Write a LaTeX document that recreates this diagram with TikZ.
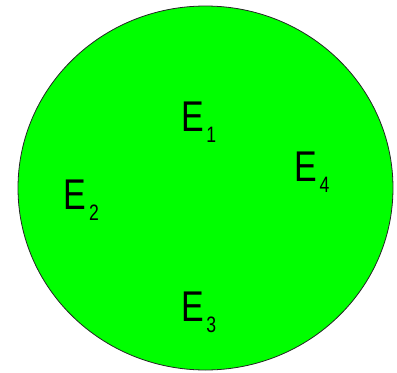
\documentclass[tikz,border=0pt]{standalone}
\usepackage{fontspec}
\setmainfont{Liberation Sans}
\usepackage{graphicx}
\definecolor{brightgreen}{RGB}{0,255,0}
\newcommand{\elab}[1]{\scalebox{0.79}[1]{\fontsize{43bp}{43bp}\selectfont E\kern3bp\raisebox{-11bp}{\fontsize{22.3bp}{22.3bp}\selectfont #1}}}
\begin{document}
\begin{tikzpicture}[x=1bp,y=-1bp,
  lab/.style={inner sep=0pt,outer sep=0pt,anchor=base west,text=black}]
\useasboundingbox (0,0) rectangle (397,373);
\filldraw[fill=brightgreen,draw=black!85,line width=0.8bp] (205.5,188) ellipse [x radius=187.5,y radius=182];
\node[lab] (e1) at (181.3,131.7) {\elab{1}};
\node[lab] (e2) at (64,209.3) {\elab{2}};
\node[lab] (e4) at (294.6,181) {\elab{4}};
\node[lab] (e3) at (181.3,321) {\elab{3}};
\end{tikzpicture}
\end{document}
